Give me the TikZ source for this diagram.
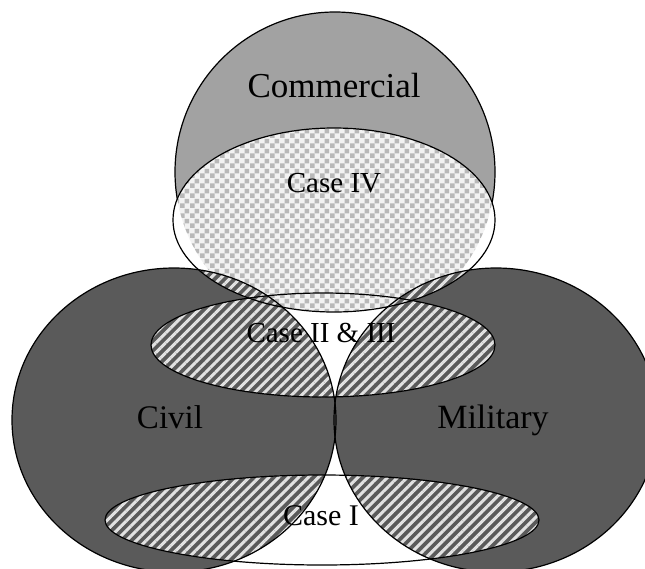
\documentclass[tikz,border=0pt]{standalone}
\usepackage{fontspec}
\setmainfont{Liberation Serif}
\usetikzlibrary{patterns.meta}
\definecolor{commgrey}{HTML}{A2A2A2}
\definecolor{darkgrey}{HTML}{5A5A5A}
\definecolor{checkdark}{HTML}{B8B8B8}
\definecolor{checklight}{HTML}{F2F2F2}
\definecolor{stripe}{HTML}{E2E2E2}

\tikzdeclarepattern{
  name=checks,
  type=uncolored,
  bottom left={(0pt,0pt)},
  top right={(10pt,10pt)},
  tile size={(10pt,10pt)},
  code={
    \fill (0pt,0pt) rectangle (5pt,5pt);
    \fill (5pt,5pt) rectangle (10pt,10pt);
  }
}

\begin{document}
\begin{tikzpicture}[x=1pt,y=-1pt,
  commshape/.style={insert path={(335,172) circle [radius=160]}},
  civilshape/.style={insert path={(174,420) ellipse [x radius=162, y radius=152]}},
  milshape/.style={insert path={(496,420) ellipse [x radius=162, y radius=152]}},
  fourshape/.style={insert path={(334,220) ellipse [x radius=161, y radius=92]}},
  twoshape/.style={insert path={(323,345) ellipse [x radius=172, y radius=52]}},
  oneshape/.style={insert path={(322,520) ellipse [x radius=217, y radius=45]}},
  outline/.style={draw=black, line width=1.2pt},
  hatchfill/.style={pattern={Lines[angle=45,distance=7pt,line width=3pt]}, pattern color=stripe},
  checkfill/.style={pattern=checks, pattern color=checkdark},
  lbl/.style={anchor=base, text=black}
]
\useasboundingbox (0,0) rectangle (645,568);
% Commercial
\fill[commgrey, commshape];
\draw[outline, commshape];
% Civil and Military
\fill[darkgrey, civilshape];
\fill[darkgrey, milshape];
% Case IV
\fill[white, fourshape];
\begin{scope}
  \clip[fourshape];
  \fill[checklight, commshape];
  \fill[checkfill, commshape];
  \fill[darkgrey, civilshape];
  \fill[hatchfill, civilshape];
  \fill[darkgrey, milshape];
  \fill[hatchfill, milshape];
\end{scope}
% Case II & III
\begin{scope}
  \clip[twoshape];
  \fill[white, even odd rule, twoshape, fourshape];
  \fill[darkgrey, civilshape];
  \fill[hatchfill, civilshape];
  \fill[darkgrey, milshape];
  \fill[hatchfill, milshape];
\end{scope}
% Case I
\begin{scope}
  \clip[oneshape];
  \fill[white, oneshape];
  \fill[darkgrey, civilshape];
  \fill[hatchfill, civilshape];
  \fill[darkgrey, milshape];
  \fill[hatchfill, milshape];
\end{scope}
% Outlines
\draw[outline, civilshape];
\draw[outline, milshape];
\draw[outline, fourshape];
\draw[outline, twoshape];
\draw[outline, oneshape];
% Labels
\node[lbl, font=\fontsize{35}{40}\selectfont] (commercial) at (334,97) {Commercial};
\node[lbl, font=\fontsize{29}{34}\selectfont] (case4) at (334,192) {Case IV};
\node[lbl, font=\fontsize{29}{34}\selectfont] (case23) at (321,342) {Case II \& III};
\node[lbl, font=\fontsize{33}{38}\selectfont] (civil) at (170,428) {Civil};
\node[lbl, font=\fontsize{34}{39}\selectfont] (military) at (493,428) {Military};
\node[lbl, font=\fontsize{30}{35}\selectfont] (case1) at (321,525) {Case I};
\end{tikzpicture}
\end{document}
